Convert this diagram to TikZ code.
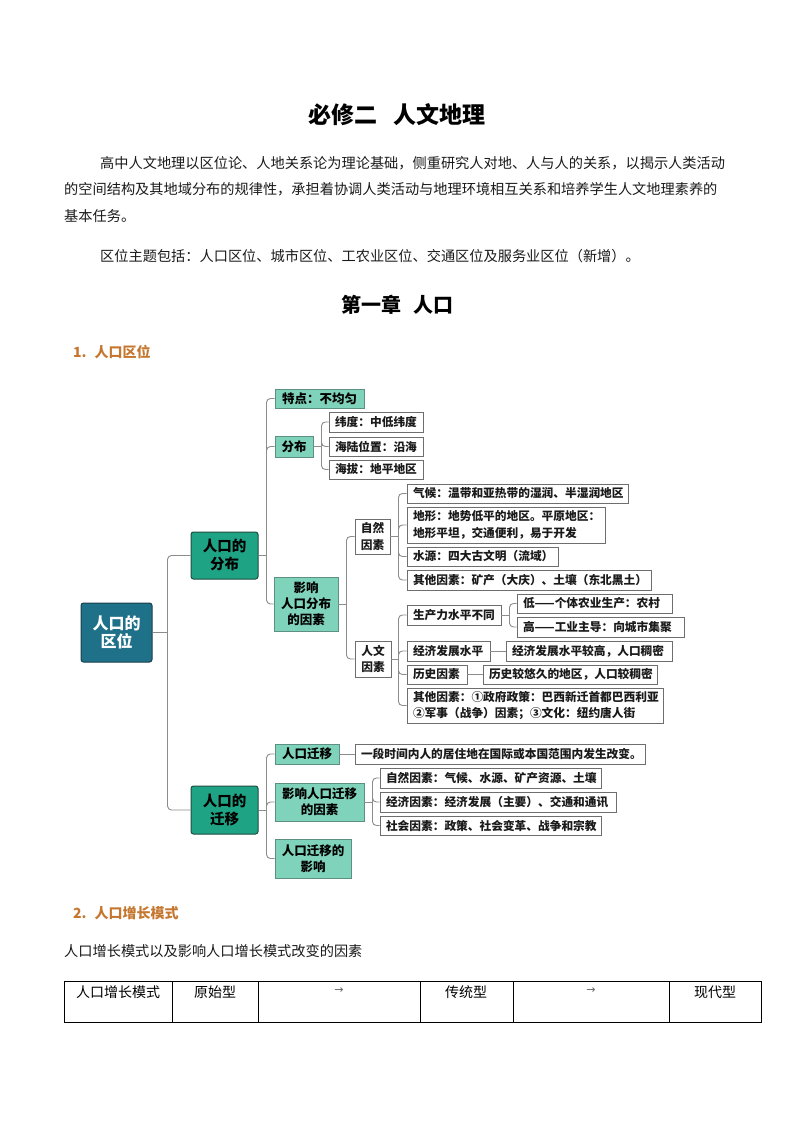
\documentclass[tikz,border=0pt]{standalone}
\usepackage{fontspec}
\setmainfont{Noto Sans CJK SC}
\newfontfamily\dejavu{DejaVu Sans}
\usetikzlibrary{calc}
\definecolor{rootc}{HTML}{1F7089}
\definecolor{rootb}{HTML}{1B3F4C}
\definecolor{tealc}{HTML}{1FA385}
\definecolor{tealb}{HTML}{1D4D40}
\definecolor{mintc}{HTML}{80D3BB}
\definecolor{mintb}{HTML}{5E8F83}
\definecolor{boxb}{HTML}{6E6E6E}
\definecolor{connc}{HTML}{8C8C8C}
\definecolor{headc}{HTML}{C5772F}
\definecolor{txt}{HTML}{1A1A1A}
\tikzset{
  rootbox/.style={fill=rootc, draw=rootb, line width=1pt, rounded corners=2.5pt, text=white, align=center, inner sep=0pt, font=\bfseries\fontsize{16}{18}\selectfont},
  lonebox/.style={fill=tealc, draw=tealb, line width=1pt, rounded corners=2.5pt, text=black, align=center, inner sep=0pt, font=\bfseries\fontsize{14.5}{18}\selectfont},
  ltwobox/.style={fill=mintc, draw=mintb, line width=0.9pt, text=black, align=center, inner sep=0pt, font=\bfseries\fontsize{12.5}{16}\selectfont},
  lthreebox/.style={fill=white, draw=boxb, line width=0.9pt, text=txt, align=left, inner xsep=6pt, inner ysep=0pt, font=\bfseries\fontsize{11.7}{16.5}\selectfont},
  conn/.style={draw=connc, line width=0.9pt, rounded corners=4pt},
  bodytxt/.style={anchor=west, inner sep=0pt, text=txt, font=\fontsize{14.2}{18}\selectfont},
  headtxt/.style={anchor=west, inner sep=0pt, text=headc, font=\bfseries\fontsize{14}{16}\selectfont},
  celltxt/.style={inner sep=0pt, text=black, font=\fontsize{14}{16}\selectfont},
  arrtxt/.style={inner sep=0pt, text=black!60, font=\dejavu\fontsize{11}{12}\selectfont}
}
% centred box: name, x1, y1, x2, y2, style, text
\newcommand\mbxC[7]{%
  \pgfmathsetmacro\mbW{#4-#2}\pgfmathsetmacro\mbH{#5-#3}%
  \pgfmathsetmacro\mbX{(#2+#4)/2}\pgfmathsetmacro\mbY{(#3+#5)/2}%
  \node[#6, minimum width=\mbW pt, minimum height=\mbH pt] (#1) at (\mbX,\mbY) {#7};}
% left aligned box
\newcommand\mbxL[7]{%
  \pgfmathsetmacro\mbW{#4-#2-12}\pgfmathsetmacro\mbH{#5-#3}%
  \pgfmathsetmacro\mbX{(#2+#4)/2}\pgfmathsetmacro\mbY{(#3+#5)/2}%
  \node[#6, text width=\mbW pt, minimum height=\mbH pt] (#1) at (\mbX,\mbY) {#7};}
\begin{document}
\begin{tikzpicture}[x=1pt, y=-1pt]
\useasboundingbox (0,0) rectangle (794,1123);
\fill[white] (0,0) rectangle (794,1123);

% ---- title and text
\node[inner sep=0pt, font=\bfseries\fontsize{23}{25}\selectfont] (title) at (397,115) {必修二\hspace{0.7em}人文地理};
\node[bodytxt] (p1) at (100,163) {高中人文地理以区位论、人地关系论为理论基础，侧重研究人对地、人与人的关系，以揭示人类活动};
\node[bodytxt] (p2) at (64,189) {的空间结构及其地域分布的规律性，承担着协调人类活动与地理环境相互关系和培养学生人文地理素养的};
\node[bodytxt] (p3) at (64,216) {基本任务。};
\node[bodytxt] (p4) at (100,256) {区位主题包括：人口区位、城市区位、工农业区位、交通区位及服务业区位（新增）。};
\node[inner sep=0pt, font=\bfseries\fontsize{20}{22}\selectfont] (chap) at (397,305) {第一章\hspace{0.6em}人口};
\node[headtxt] (h1) at (73,352) {1.\hspace{8pt}人口区位};

% ---- mind map nodes
\mbxC{root}{81}{603}{152}{662}{rootbox}{人口的\\区位}
\mbxC{fb}{191}{532}{258}{579}{lonebox}{人口的\\分布}
\mbxC{qy}{191}{786}{258}{834}{lonebox}{人口的\\迁移}

\mbxC{td}{275}{389}{364}{408}{ltwobox}{特点：不均匀}
\mbxC{fbu}{275}{436}{313}{457}{ltwobox}{分布}
\mbxC{yx}{274}{577}{338}{631}{ltwobox}{影响\\人口分布\\的因素}
\mbxC{rkqy}{275}{744}{339}{764}{ltwobox}{人口迁移}
\mbxC{yxqy}{275}{783}{364}{821}{ltwobox}{影响人口迁移\\的因素}
\mbxC{qyyx}{275}{839}{351}{878}{ltwobox}{人口迁移的\\影响}

\mbxL{wd}{329}{412}{423}{432}{lthreebox}{纬度：中低纬度}
\mbxL{hl}{329}{437}{423}{456}{lthreebox}{海陆位置：沿海}
\mbxL{hb}{329}{460}{423}{479}{lthreebox}{海拔：地平地区}

\mbxC{zr}{355}{519}{390}{554}{lthreebox, align=center, inner xsep=0pt}{自然\\因素}
\mbxC{rw}{355}{641}{391}{677}{lthreebox, align=center, inner xsep=0pt}{人文\\因素}

\mbxL{qh}{407}{484}{628}{503}{lthreebox}{气候：温带和亚热带的湿润、半湿润地区}
\mbxL{dx}{407}{507}{605}{543}{lthreebox}{地形：地势低平的地区。平原地区：\\地形平坦，交通便利，易于开发}
\mbxL{sy}{407}{547}{558}{566}{lthreebox}{水源：四大古文明（流域）}
\mbxL{qt}{407}{570}{651}{590}{lthreebox}{其他因素：矿产（大庆）、土壤（东北黑土）}

\mbxL{scl}{407}{605}{501}{625}{lthreebox}{生产力水平不同}
\mbxL{di}{517}{594}{672}{613}{lthreebox}{低——个体农业生产：农村}
\mbxL{gao}{517}{617}{684}{637}{lthreebox}{高——工业主导：向城市集聚}
\mbxL{jj}{407}{641}{490}{661}{lthreebox}{经济发展水平}
\mbxL{jjg}{506}{641}{672}{661}{lthreebox}{经济发展水平较高，人口稠密}
\mbxL{ls}{407}{665}{467}{684}{lthreebox}{历史因素}
\mbxL{lsy}{483}{665}{657}{684}{lthreebox}{历史较悠久的地区，人口较稠密}
\mbxL{qtr}{407}{688}{663}{723}{lthreebox}{其他因素：①政府政策：巴西新迁首都巴西利亚\\②军事（战争）因素；③文化：纽约唐人街}

\mbxL{dy}{355}{744}{645}{764}{lthreebox}{一段时间内人的居住地在国际或本国范围内发生改变。}
\mbxL{zrq}{380}{768}{601}{788}{lthreebox}{自然因素：气候、水源、矿产资源、土壤}
\mbxL{jjq}{380}{792}{616}{812}{lthreebox}{经济因素：经济发展（主要）、交通和通讯}
\mbxL{shq}{380}{816}{601}{835}{lthreebox}{社会因素：政策、社会变革、战争和宗教}

% ---- connectors
\draw[conn] (root.east) -- ++(15,0) coordinate (j0);
\draw[conn] (j0) |- (fb.west);
\draw[conn] (j0) |- (qy.west);

\draw[conn] (fb.east) -- ++(8,0) coordinate (j1);
\draw[conn] (j1) |- (td.west);
\draw[conn] (j1) |- (fbu.west);
\draw[conn] (j1) |- (yx.west);

\draw[conn] (fbu.east) -- ++(8,0) coordinate (j2);
\draw[conn] (j2) |- (wd.west);
\draw[conn] (j2) |- (hl.west);
\draw[conn] (j2) |- (hb.west);

\draw[conn] (yx.east) -- ++(8,0) coordinate (j3);
\draw[conn] (j3) |- (zr.west);
\draw[conn] (j3) |- (rw.west);

\draw[conn] (zr.east) -- ++(8,0) coordinate (j4);
\draw[conn] (j4) |- (qh.west);
\draw[conn] (j4) |- (dx.west);
\draw[conn] (j4) |- (sy.west);
\draw[conn] (j4) |- (qt.west);

\draw[conn] (rw.east) -- ++(7,0) coordinate (j5);
\draw[conn] (j5) |- (scl.west);
\draw[conn] (j5) |- (jj.west);
\draw[conn] (j5) |- (ls.west);
\draw[conn] (j5) |- (qtr.west);

\draw[conn] (scl.east) -- ++(8,0) coordinate (j6);
\draw[conn] (j6) |- (di.west);
\draw[conn] (j6) |- (gao.west);

\draw[conn] (jj.east) -- (jjg.west);
\draw[conn] (ls.east) -- (lsy.west);

\draw[conn] (qy.east) -- ++(8,0) coordinate (j7);
\draw[conn] (j7) |- (rkqy.west);
\draw[conn] (j7) |- (yxqy.west);
\draw[conn] (j7) |- (qyyx.west);

\draw[conn] (rkqy.east) -- (dy.west);

\draw[conn] (yxqy.east) -- ++(8,0) coordinate (j8);
\draw[conn] (j8) |- (zrq.west);
\draw[conn] (j8) |- (jjq.west);
\draw[conn] (j8) |- (shq.west);

% ---- section 2
\node[headtxt] (h2) at (73,913) {2.\hspace{8pt}人口增长模式};
\node[bodytxt] (p5) at (64,951) {人口增长模式以及影响人口增长模式改变的因素};

\draw[line width=0.9pt] (64,981) rectangle (761,1022);
\foreach \cx in {172,258,420,513,669} \draw[line width=0.9pt] (\cx,981) -- (\cx,1022);
\node[celltxt] (c1) at (118,992) {人口增长模式};
\node[celltxt] (c2) at (215,992) {原始型};
\node[arrtxt] (c3) at (339,991) {→};
\node[celltxt] (c4) at (466,992) {传统型};
\node[arrtxt] (c5) at (591,991) {→};
\node[celltxt] (c6) at (715,992) {现代型};
\end{tikzpicture}
\end{document}
